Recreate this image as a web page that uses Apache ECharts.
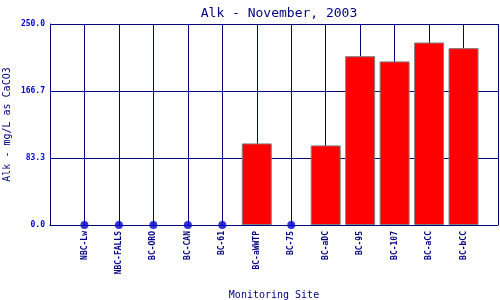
<!DOCTYPE html>
<html><head><meta charset="utf-8">
<script src="https://cdn.jsdelivr.net/npm/echarts@6/dist/echarts.min.js"></script>
<style>html,body{margin:0;padding:0;background:#fff}#c{width:500px;height:300px}</style>
</head><body><div id="c"></div>
<script>
var categories = ["NBC-Lw","NBC-FALLS","BC-ORO","BC-CAN","BC-61","BC-aWWTP","BC-75","BC-aDC","BC-95","BC-107","BC-aCC","BC-bCC"];
var alkValues = [0,0,0,0,0,101.5,0,99,210,203.5,227,220];
var yTicks = [0,83.3,166.7,250.0];

var mono = "DejaVu Sans Mono";
var barData = [], dotData = [];
alkValues.forEach(function(v,i){
  if (v > 0) barData.push([i+1, v]); else dotData.push([i+1, v]);
});
var chart = echarts.init(document.getElementById('c'), null, {renderer:'canvas'});
chart.setOption({
  animation:false,
  title:{text:"Alk - November, 2003", left:274, top:2, textAlign:'center',
    textStyle:{fontFamily:mono,fontSize:13,fontWeight:'normal',color:'#000080'}},
  grid:{left:50,right:2,top:24,bottom:75,containLabel:false,outerBoundsMode:'none'},
  xAxis:{type:'value',min:0,max:13,interval:1,
    name:"Monitoring Site",nameLocation:'middle',nameGap:65,nameMoveOverlap:false,
    nameTextStyle:{fontFamily:mono,fontSize:10,color:'#000080'},
    axisLine:{lineStyle:{color:'#000080',width:1}},
    axisTick:{show:false},
    splitLine:{show:true,lineStyle:{color:'#000080',width:1}},
    axisLabel:{rotate:90,fontFamily:mono,fontSize:8,fontWeight:'bold',color:'#000080',margin:6,
      formatter:function(v){var i=Math.round(v)-1;return (i>=0&&i<categories.length)?categories[i]:'';},
      showMinLabel:false,showMaxLabel:false}
  },
  yAxis:{type:'value',min:0,max:250,interval:250/3,
    name:"Alk - mg/L as CaCO3",nameLocation:'middle',nameGap:38,nameMoveOverlap:false,
    nameTextStyle:{fontFamily:mono,fontSize:10,color:'#000080'},
    axisLine:{show:true,lineStyle:{color:'#000080'}},
    axisTick:{show:false},
    splitLine:{show:true,lineStyle:{color:'#000080',width:1}},
    axisLabel:{fontFamily:mono,fontSize:8,fontWeight:'bold',color:'#0000cc',margin:5,
      formatter:function(v){return v.toFixed(1);}}
  },
  series:[
    {type:'bar',data:barData,barWidth:30,
      itemStyle:{color:'#ff0000',borderColor:'#808080',borderWidth:1}},
    {type:'scatter',data:dotData,symbol:'circle',symbolSize:8,
      itemStyle:{color:'#0000cc'},z:5}
  ]
});
</script></body></html>
